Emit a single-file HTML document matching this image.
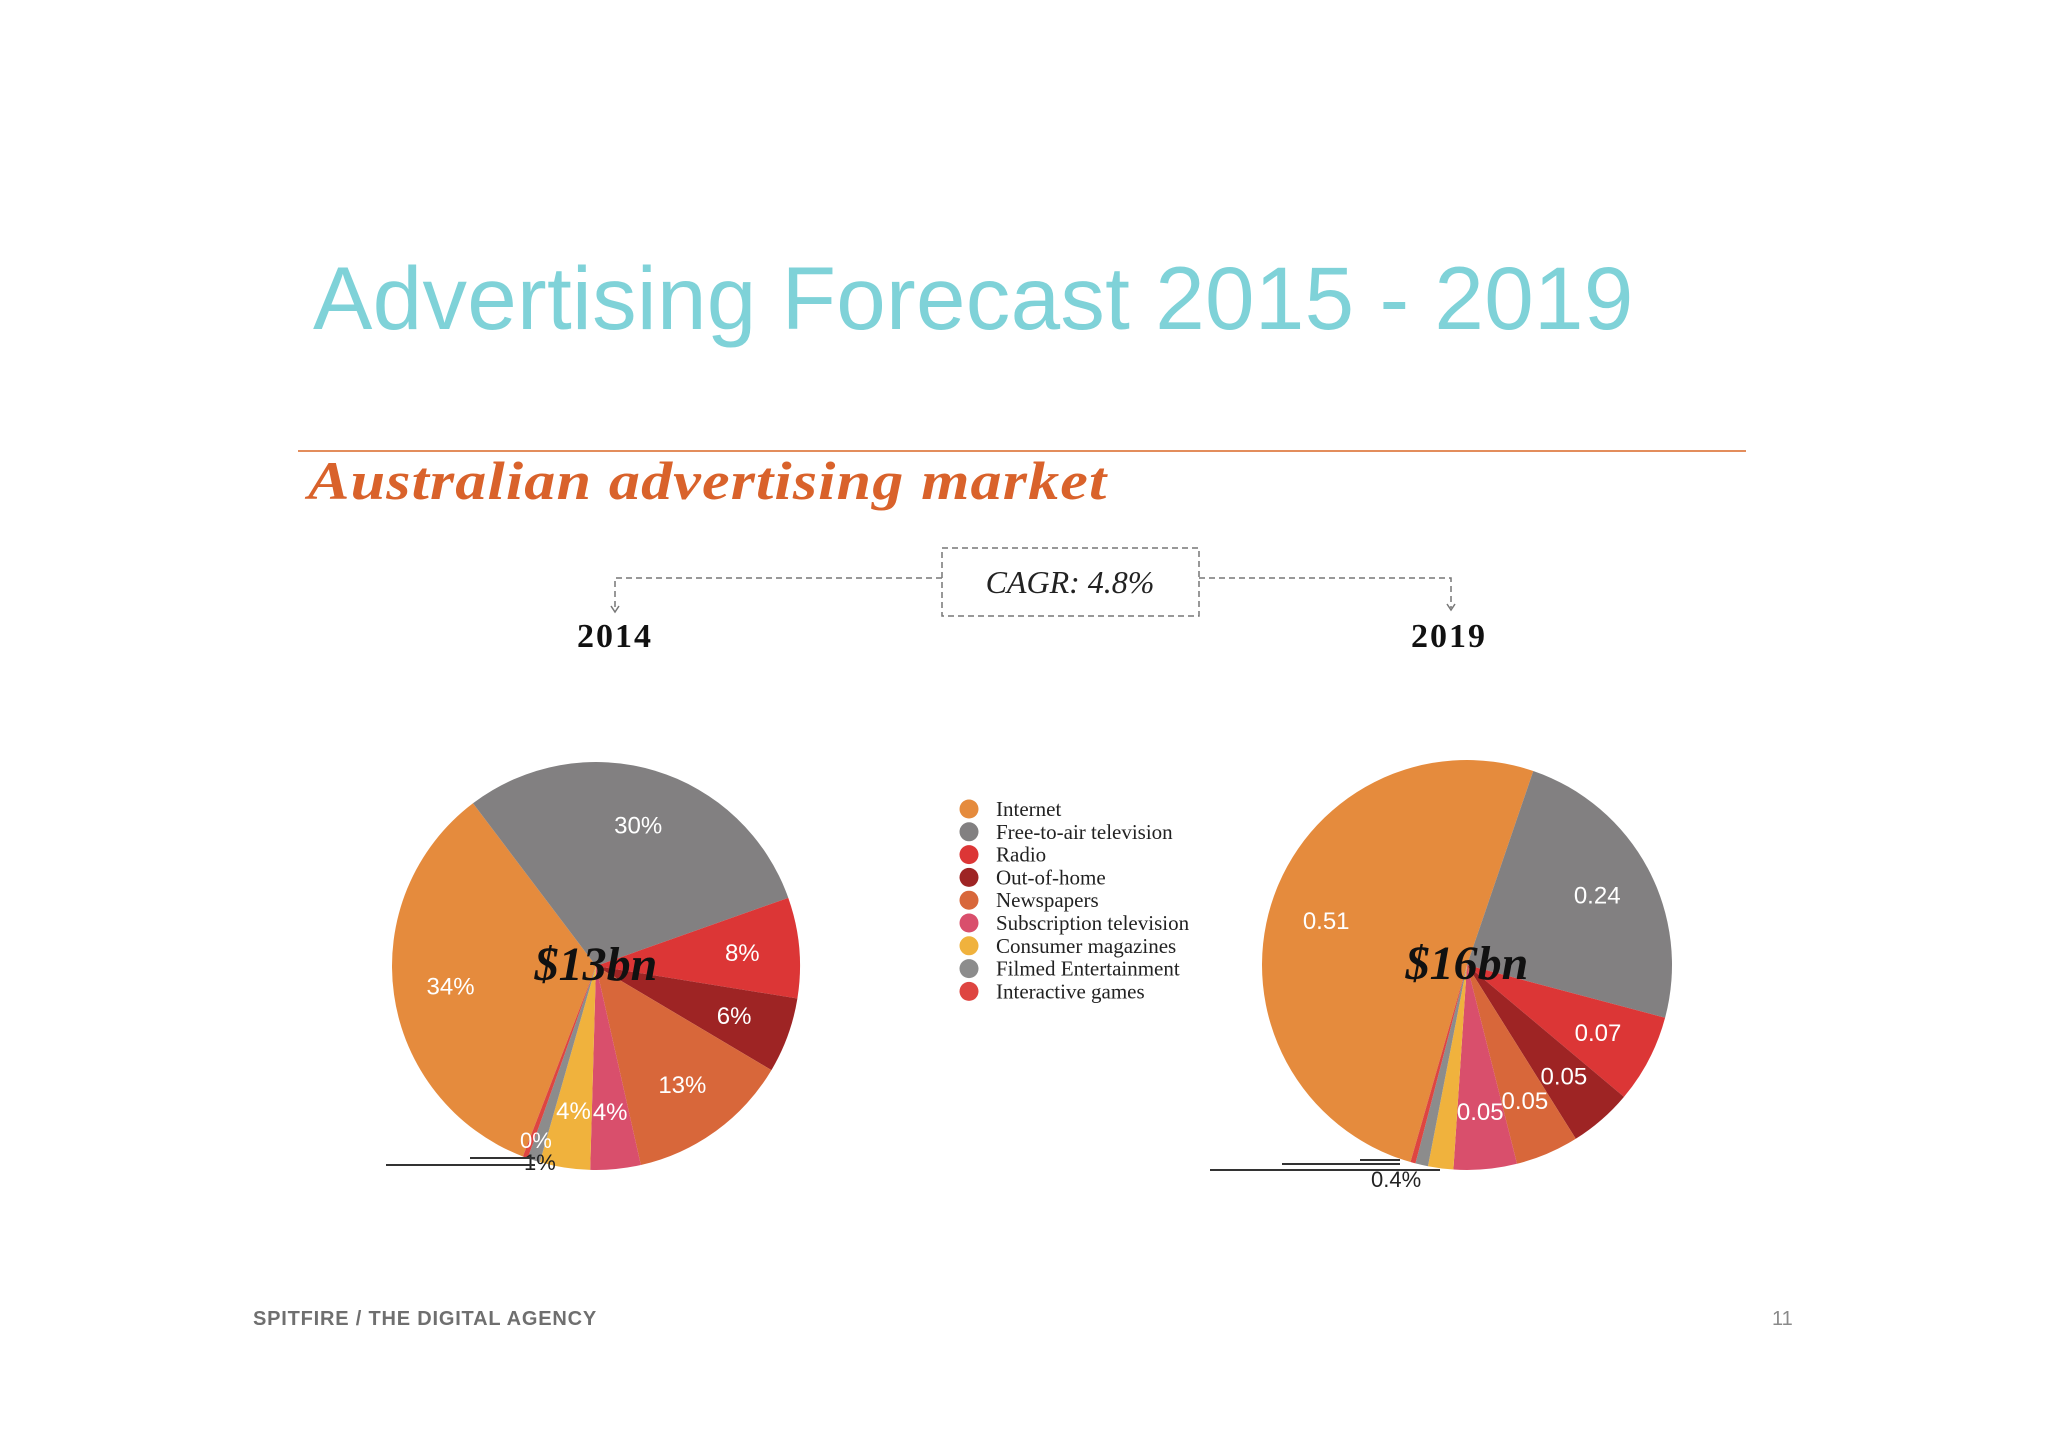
<!DOCTYPE html>
<html><head><meta charset="utf-8"><style>
body{margin:0;background:#fff;}
#c{position:relative;width:2048px;height:1447px;overflow:hidden;background:#fff;font-family:"Liberation Sans",sans-serif;}
.t{position:absolute;white-space:nowrap;}
</style></head><body>
<div id="c">
<div class="t" style="left:313px;top:247px;font-size:89px;color:#7fd2d8;letter-spacing:0.3px;">Advertising Forecast 2015 - 2019</div>
<div style="position:absolute;left:298px;top:450px;width:1448px;height:2px;background:#e38d5c;"></div>
<div class="t" style="left:308px;top:450px;font-family:'Liberation Serif',serif;font-style:italic;font-weight:bold;font-size:54px;color:#d9622b;letter-spacing:1px;transform:scaleX(1.15);transform-origin:left top;">Australian advertising market</div>
<svg id="s" width="2048" height="1447" style="position:absolute;left:0;top:0"></svg>
<div class="t" style="left:253px;top:1308px;font-size:20px;font-weight:bold;color:#6f6f6f;letter-spacing:0.8px;">SPITFIRE / THE DIGITAL AGENCY</div>
<div class="t" style="left:1772px;top:1308px;font-size:20px;color:#8a8a8a;">11</div>
</div>
<script>
const categories=["Internet","Free-to-air television","Radio","Out-of-home","Newspapers","Subscription television","Consumer magazines","Filmed Entertainment","Interactive games"];
const values2014=[34,30,8,6,13,4,4,1,0.4];
const labels2014=["34%","30%","8%","6%","13%","4%","4%","1%","0%"];
const values2019=[0.51,0.24,0.07,0.05,0.05,0.05,0.02,0.01,0.004];
const labels2019=["0.51","0.24","0.07","0.05","0.05","0.05","","","0.4%"];
const colors=["#e58b3d","#828081","#dc3636","#9e2424","#d8673a","#d94f6c","#f0b23d","#8c8c8c","#de4541"];
const NS="http://www.w3.org/2000/svg";
const svg=document.getElementById('s');
function mk(tag,attrs,parent){const e=document.createElementNS(NS,tag);for(const k in attrs)e.setAttribute(k,attrs[k]);(parent||svg).appendChild(e);return e;}
function pt(cx,cy,r,a){const rad=a*Math.PI/180;return [cx+r*Math.sin(rad),cy-r*Math.cos(rad)];}
function pie(name,cx,cy,r,vals,labels,start,total){
  const g=mk('g',{});
  
  
  const sum=vals.reduce((a,b)=>a+b,0);
  let a=start;
  vals.forEach((v,i)=>{
    const sw=v/sum*360;const p1=pt(cx,cy,r,a),p2=pt(cx,cy,r,a+sw);
    const p=mk('path',{d:`M${cx},${cy}L${p1[0]},${p1[1]}A${r},${r} 0 ${sw>180?1:0} 1 ${p2[0]},${p2[1]}Z`,fill:colors[i]},g);
    
    
    const mid=a+sw/2;
    if(labels[i]&&sw>10){
      const lp=pt(cx,cy,r*0.72,mid);
      const t=mk('text',{x:lp[0],y:lp[1]+8,'text-anchor':'middle','font-size':24,fill:'#fff','font-family':'Liberation Sans,sans-serif'},g);
      t.textContent=labels[i];
      
      
    }
    a+=sw;
  });
  const tt=mk('text',{x:cx,y:cy+14,'text-anchor':'middle','font-size':48,'font-weight':'bold','font-style':'italic',fill:'#111','font-family':'Liberation Serif,serif'},g);
  tt.textContent=total;
  
  
}
pie('pie-2014',596,966,204,values2014,labels2014,-159,'$13bn');
pie('pie-2019',1467,965,205,values2019,labels2019,-164,'$16bn');
function lbl(x,y,txt,col,name){const t=mk('text',{x:x,y:y,'font-size':22,fill:col,'font-family':'Liberation Sans,sans-serif'});t.textContent=txt;}
lbl(520,1148,labels2014[8],'#fff','label-interactive-2014');
lbl(524,1170,labels2014[7],'#222','label-filmed-2014');
mk('line',{x1:386,y1:1165,x2:535,y2:1165,stroke:'#333','stroke-width':2});
mk('line',{x1:470,y1:1158,x2:535,y2:1158,stroke:'#333','stroke-width':2});
lbl(1371,1187,labels2019[8],'#222','label-interactive-2019');
mk('line',{x1:1210,y1:1170,x2:1440,y2:1170,stroke:'#333','stroke-width':2});
mk('line',{x1:1282,y1:1164,x2:1400,y2:1164,stroke:'#333','stroke-width':2});
mk('line',{x1:1360,y1:1160,x2:1400,y2:1160,stroke:'#333','stroke-width':2});
const box=mk('rect',{x:942,y:548,width:257,height:68,fill:'none',stroke:'#777','stroke-width':1.5,'stroke-dasharray':'6 4'});

mk('path',{d:'M942,578H615V610M1199,578H1451V608',fill:'none',stroke:'#777','stroke-width':1.5,'stroke-dasharray':'6 4'});
mk('path',{d:'M611,606L615,612L619,606M1447,604L1451,610L1455,604',fill:'none',stroke:'#777','stroke-width':1.5});
const ct=mk('text',{x:1070,y:593,'text-anchor':'middle','font-size':32,'font-style':'italic',fill:'#222','font-family':'Liberation Serif,serif'});
ct.textContent='CAGR: 4.8%';
[[615,'2014'],[1449,'2019']].forEach(([x,y])=>{const t=mk('text',{x:x,y:647,'text-anchor':'middle','font-size':34,'font-weight':'bold',fill:'#111','font-family':'Liberation Serif,serif','letter-spacing':'2'});t.textContent=y;});
categories.forEach((c,i)=>{
  const y=809+i*22.8;
  const g=mk('g',{});
  
  
  mk('circle',{cx:969,cy:y,r:9.5,fill:colors[i]},g);
  const t=mk('text',{x:996,y:y+7,'font-size':21,fill:'#222','font-family':'Liberation Serif,serif'},g);
  t.textContent=c;
});
</script>
</body></html>
